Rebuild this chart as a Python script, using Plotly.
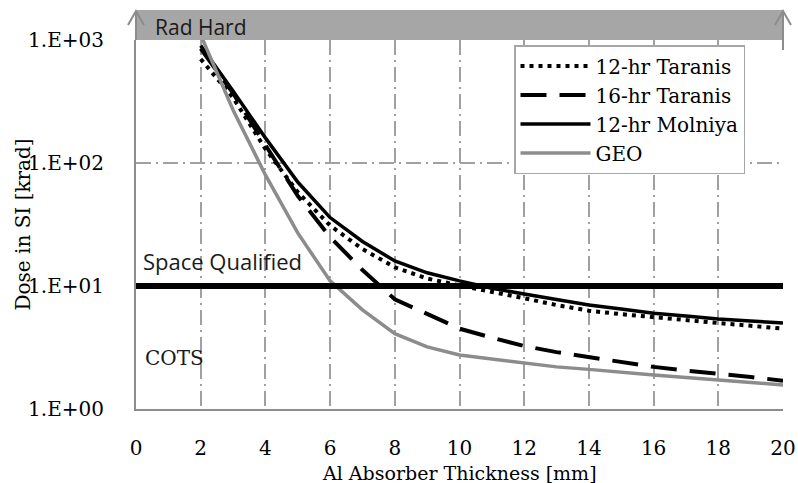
import plotly.graph_objects as go

thickness = [2, 3, 4, 5, 6, 7, 8, 9, 10, 11, 12, 13, 14, 15, 16, 17, 18, 19, 20]
taranis12 = [700, 340, 130, 58, 31, 20, 14.2, 11.5, 10.1, 9.0, 7.95, 7.0, 6.3, 5.9, 5.55, 5.25, 5.0, 4.75, 4.5]
taranis16 = [850, 370, 140, 54, 25, 13.5, 7.8, 5.9, 4.5, 3.8, 3.25, 2.9, 2.65, 2.4, 2.2, 2.05, 1.95, 1.82, 1.7]
molniya12 = [900, 385, 160, 70, 36, 23, 16, 12.8, 11.0, 9.6, 8.6, 7.7, 7.0, 6.5, 6.0, 5.7, 5.4, 5.2, 5.0]
geo = [1100, 270, 80, 27, 11, 6.4, 4.1, 3.2, 2.75, 2.55, 2.36, 2.2, 2.1, 1.98, 1.89, 1.8, 1.72, 1.64, 1.57]

series_names = ["12-hr Taranis", "16-hr Taranis", "12-hr Molniya", "GEO"]
x_ticks = [0, 2, 4, 6, 8, 10, 12, 14, 16, 18, 20]
y_tickvals = [1, 10, 100, 1000]
y_ticktext = ["1.E+00", "1.E+01", "1.E+02", "1.E+03"]
space_qualified_level = 10

SERIF = "DejaVu Serif"
SANS = "Open Sans"
GRID = "#a0a0a0"
AXIS = "#8c8c8c"

fig = go.Figure()
styles = [
    dict(color="black", width=4, dash="4px,5px"),
    dict(color="black", width=4, dash="26px,13px"),
    dict(color="black", width=3.5),
    dict(color="#8c8c8c", width=3.5),
]
for name, ys, st in zip(series_names, [taranis12, taranis16, molniya12, geo], styles):
    fig.add_trace(go.Scatter(x=thickness, y=ys, mode="lines", name=name, line=st))

# Space Qualified threshold line
fig.add_trace(go.Scatter(x=[0, 20], y=[space_qualified_level] * 2, mode="lines",
                         line=dict(color="black", width=6), showlegend=False, hoverinfo="skip"))

L, R, T, B = 136, 783, 40, 409
W, H = 798, 483
pw, ph = R - L, B - T

def px(xp):
    return (xp - L) / pw

def py(yp):
    return (B - yp) / ph

shapes = []
# Rad Hard band
shapes.append(dict(type="rect", xref="paper", yref="paper", x0=px(137), x1=px(783), y0=py(40), y1=py(10),
                   fillcolor="#a6a6a6", line=dict(width=0), layer="above"))
# arrows
for xa, top, bot in [(136, 11, 40), (783, 11, 50)]:
    shapes.append(dict(type="line", xref="paper", yref="paper", x0=px(xa), x1=px(xa), y0=py(bot), y1=py(top),
                       line=dict(color=AXIS, width=2), layer="above"))
    path = f"M {px(xa-8)} {py(top+14)} L {px(xa)} {py(top)} L {px(xa+8)} {py(top+14)}"
    shapes.append(dict(type="path", xref="paper", yref="paper", path=path,
                       line=dict(color=AXIS, width=2), layer="above"))

annotations = [
    dict(text="Rad Hard", xref="paper", yref="paper", x=px(153), y=py(27), xanchor="left", yanchor="middle",
         showarrow=False, font=dict(family=SANS, size=21, color="#1a1a1a")),
    dict(text="Space Qualified", xref="paper", yref="paper", x=px(141), y=py(261), xanchor="left", yanchor="middle",
         showarrow=False, font=dict(family=SANS, size=22, color="#1a1a1a")),
    dict(text="COTS", xref="paper", yref="paper", x=px(143), y=py(358), xanchor="left", yanchor="middle",
         showarrow=False, font=dict(family=SERIF, size=20, color="#1a1a1a")),
    dict(text="Al Absorber Thickness [mm]", xref="paper", yref="paper", x=0.5, y=py(486),
         xanchor="center", yanchor="bottom", showarrow=False, font=dict(family=SERIF, size=19, color="black")),
    dict(text="Dose in SI [krad]", xref="paper", yref="paper", x=px(22), y=0.5, textangle=-90,
         xanchor="center", yanchor="middle", showarrow=False, font=dict(family=SERIF, size=20, color="black")),
]

fig.update_layout(
    width=W, height=H,
    margin=dict(l=L, r=W - R, t=T, b=H - B, pad=0),
    paper_bgcolor="white", plot_bgcolor="white",
    shapes=shapes, annotations=annotations,
    font=dict(family=SERIF, size=20, color="black"),
    showlegend=True,
    legend=dict(x=px(514), y=py(45), xanchor="left", yanchor="top",
                bgcolor="white", bordercolor="#a6a6a6", borderwidth=1.5,
                font=dict(family=SERIF, size=20, color="black"),
                itemwidth=70, tracegroupgap=0),
    xaxis=dict(range=[0, 20], tickvals=x_ticks, showgrid=True, gridcolor=GRID, griddash="15px,5px,2px,5px",
               gridwidth=1.5, showline=True, linecolor=AXIS, linewidth=2, zeroline=False,
               ticks="", ticklabelstandoff=20, automargin=False, tickfont=dict(size=20)),
    yaxis=dict(type="log", range=[0, 3], tickvals=y_tickvals, ticktext=y_ticktext, showgrid=True,
               gridcolor=GRID, griddash="15px,5px,2px,5px", gridwidth=1.5, automargin=False,
               showline=True, linecolor=AXIS, linewidth=2, zeroline=False, ticks="", ticklabelstandoff=26,
               tickfont=dict(size=20)),
)

fig.write_html("out.html")
